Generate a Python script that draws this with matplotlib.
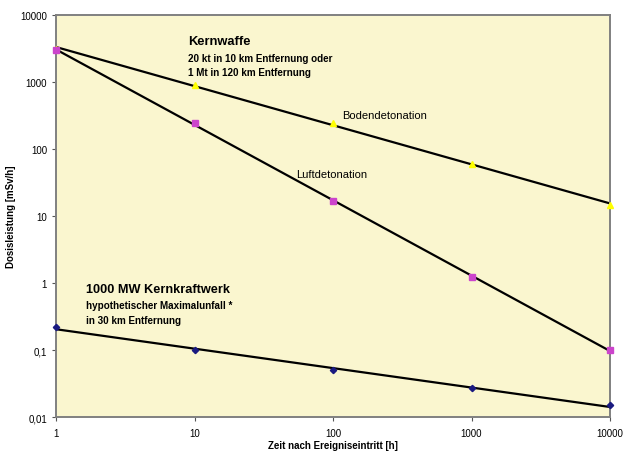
import numpy as np
import matplotlib.pyplot as plt
from matplotlib.ticker import FixedLocator, FixedFormatter, NullLocator

plt.rcParams['font.family'] = ['Liberation Sans', 'DejaVu Sans']

# time after event [h]
hours = [1, 10, 100, 1000, 10000]

# dose rate [mSv/h]
boden = [3100, 900, 245, 60, 14.5]
luft = [3000, 245, 16.6, 1.23, 0.1]
kkw = [0.22, 0.1, 0.05, 0.027, 0.015]

yticks = [0.01, 0.1, 1, 10, 100, 1000, 10000]
ylabels = ["0,01", "0,1", "1", "10", "100", "1000", "10000"]
xticks = [1, 10, 100, 1000, 10000]
xlabels = ["1", "10", "100", "1000", "10000"]

bg = "#FAF6CF"

fig = plt.figure(figsize=(6.23, 4.52), dpi=100)
ax = fig.add_axes([0.0899, 0.0752, 0.8893, 0.8894])
ax.set_facecolor(bg)

x = np.array(hours, dtype=float)
xl = np.log10(x)
xfit = np.logspace(0, 4, 200)


def trend(vals):
    # power-law trend line, like a spreadsheet trendline
    k, d = np.polyfit(xl, np.log10(vals), 1)
    return 10 ** (d + k * np.log10(xfit))


for vals, marker, col, ms in [(boden, "^", "#FFFF00", 4),
                              (luft, "s", "#CC44CC", 4),
                              (kkw, "D", "#1A1A80", 3.2)]:
    ax.plot(xfit, trend(vals), color="black", lw=1.6, zorder=2)
    ax.plot(x, vals, ls="none", marker=marker, color=col, ms=ms,
            mec=col, zorder=3, clip_on=False)

ax.set_xscale("log")
ax.set_yscale("log")
ax.set_xlim(1, 10000)
ax.set_ylim(0.01, 10000)

ax.xaxis.set_major_locator(FixedLocator(xticks))
ax.xaxis.set_major_formatter(FixedFormatter(xlabels))
ax.yaxis.set_major_locator(FixedLocator(yticks))
ax.yaxis.set_major_formatter(FixedFormatter(ylabels))
ax.xaxis.set_minor_locator(NullLocator())
ax.yaxis.set_minor_locator(NullLocator())
ax.tick_params(axis="both", labelsize=7, length=3, width=0.8, color="#555555")
ax.tick_params(axis="x", pad=5)

for s in ax.spines.values():
    s.set_color("#808080")
    s.set_linewidth(1.4)

ax.set_xlabel("Zeit nach Ereigniseintritt [h]", fontsize=7, fontweight="bold", labelpad=1)
ax.set_ylabel("Dosisleistung [mSv/h]", fontsize=7, fontweight="bold", labelpad=3)

tr = ax.transAxes
ax.text(0.238, 0.935, "Kernwaffe", transform=tr, fontsize=9.3, fontweight="bold", va="center")
ax.text(0.238, 0.893, "20 kt in 10 km Entfernung oder", transform=tr, fontsize=7.1,
        fontweight="bold", va="center")
ax.text(0.238, 0.858, "1 Mt in 120 km Entfernung", transform=tr, fontsize=7.1,
        fontweight="bold", va="center")
ax.text(0.516, 0.751, "Bodendetonation", transform=tr, fontsize=8, va="center")
ax.text(0.433, 0.604, "Luftdetonation", transform=tr, fontsize=8, va="center")
ax.text(0.054, 0.318, "1000 MW Kernkraftwerk", transform=tr, fontsize=9.2, fontweight="bold",
        va="center")
ax.text(0.054, 0.278, "hypothetischer Maximalunfall *", transform=tr, fontsize=7.1,
        fontweight="bold", va="center")
ax.text(0.054, 0.241, "in 30 km Entfernung", transform=tr, fontsize=7.1,
        fontweight="bold", va="center")

fig.savefig("out.png", dpi=100)
